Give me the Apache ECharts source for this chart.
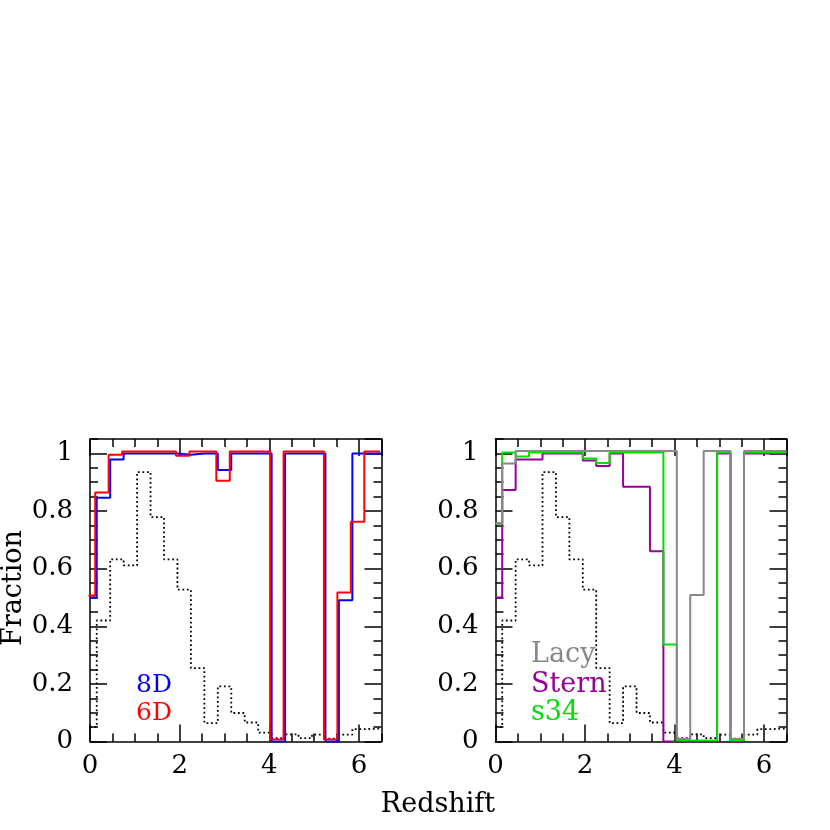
<!DOCTYPE html>
<html>
<head>
<meta charset="utf-8">
<script src="https://cdn.jsdelivr.net/npm/echarts@6/dist/echarts.min.js"></script>
<style>
html,body{margin:0;padding:0;background:#ffffff;}
#c{width:830px;height:830px;}
</style>
</head>
<body>
<div id="c"></div>
<script>
// ---------- data ----------
const binEdges = [0, 0.15, 0.45, 0.75, 1.05, 1.35, 1.65, 1.95, 2.25, 2.55, 2.85, 3.15, 3.45, 3.75, 4.05, 4.35, 4.65, 4.95, 5.25, 5.55, 5.85, 6.15, 6.45];
const binEnd = 6.5;
const xTickLabels = [0, 2, 4, 6];
const yTickLabels = [0, 0.2, 0.4, 0.6, 0.8, 1];
// dotted histogram (normalised redshift distribution), same in both panels
const sampleN   = [0.05, 0.42, 0.632, 0.611, 0.935, 0.779, 0.632, 0.527, 0.255, 0.064, 0.191, 0.099, 0.066, 0.031, 0.012, 0.025, 0.012, 0.024, 0.01, 0.024, 0.043, 0.045, 0.045];
// left panel
const frac8D    = [0.5, 0.846, 0.979, 1, 1, 1, 1, 0.995, 1, 1, 0.942, 1, 1, 1, 0, 1, 1, 1, 0, 0.49, 1, 1, 1];
const frac6D    = [0.5, 0.857, 0.988, 1, 1, 1, 1, 0.985, 1, 1, 0.898, 1, 1, 1, 0, 1, 1, 1, 0, 0.51, 0.756, 1, 1];
// right panel
const fracLacy  = [0.75, 0.956, 1, 1, 1, 1, 1, 1, 1, 1, 1, 1, 1, 1, 0, 0.5, 1, 1, 0, 1, 1, 1, 1];
const fracStern = [0.5, 0.873, 0.979, 0.979, 1, 1, 1, 0.975, 0.956, 1, 0.884, 0.884, 0.66, 0, 0, 0, 0, 1, 0, 1, 1, 1, 1];
const fracS34   = [0.752, 1, 0.986, 1, 1, 1, 1, 0.979, 0.963, 1, 1, 1, 1, 0.333, 0, 0, 0, 1, 0, 1, 1, 1, 1];

// ---------- chart ----------
const FONT = '"DejaVu Serif", "Liberation Serif", serif';
const chart = echarts.init(document.getElementById('c'), null, {renderer: 'canvas'});

function steps(vals) {
  const d = binEdges.map((e, i) => [e, vals[i]]);
  d.push([binEnd, vals[vals.length - 1]]);
  return d;
}
function inList(list, v) {
  return list.some(t => Math.abs(t - v) < 1e-6);
}

const panels = [
  {left: 90, top: 439, width: 291.5, height: 302.5},
  {left: 495.5, top: 439, width: 291, height: 302.5}
];

const grids = [], xAxes = [], yAxes = [];
const black = {color: '#000', width: 1.5};

function addGrid(g, dx, dy, visible) {
  const gi = grids.length;
  grids.push({left: g.left + dx, top: g.top + dy, width: g.width, height: g.height});
  const xi = xAxes.length, yi = yAxes.length;
  const xb = {gridIndex: gi, type: 'value', min: 0, max: binEnd, splitLine: {show: false}};
  const yb = {gridIndex: gi, type: 'value', min: 0, max: 1.05, splitLine: {show: false}};
  if (!visible) {
    xAxes.push(Object.assign({}, xb, {show: false}));
    yAxes.push(Object.assign({}, yb, {show: false}));
    return {xi, yi};
  }
  const noLabel = {show: false};
  xAxes.push(Object.assign({}, xb, {
    position: 'bottom', interval: 2,
    axisLine: {show: true, onZero: false, lineStyle: black},
    axisTick: {show: true, inside: true, length: 17, lineStyle: black},
    axisLabel: {show: true, margin: 12, fontFamily: FONT, fontSize: 26, color: '#000',
      showMaxLabel: false, formatter: v => inList(xTickLabels, v) ? String(v) : ''}
  }));
  xAxes.push(Object.assign({}, xb, {
    position: 'bottom', interval: 0.5,
    axisLine: {show: false, onZero: false},
    axisTick: {show: true, inside: true, length: 8, lineStyle: black},
    axisLabel: noLabel
  }));
  xAxes.push(Object.assign({}, xb, {
    position: 'top', interval: 2,
    axisLine: {show: true, onZero: false, lineStyle: black},
    axisTick: {show: true, inside: true, length: 17, lineStyle: black},
    axisLabel: noLabel
  }));
  xAxes.push(Object.assign({}, xb, {
    position: 'top', interval: 0.5,
    axisLine: {show: false, onZero: false},
    axisTick: {show: true, inside: true, length: 8, lineStyle: black},
    axisLabel: noLabel
  }));
  yAxes.push(Object.assign({}, yb, {
    position: 'left', interval: 0.2,
    axisLine: {show: true, onZero: false, lineStyle: black},
    axisTick: {show: true, inside: true, length: 17, lineStyle: black},
    axisLabel: {show: true, margin: 17, fontFamily: FONT, fontSize: 26, color: '#000',
      showMaxLabel: false,
      formatter: v => inList(yTickLabels, v) ? String(Math.round(v * 10) / 10) : ''}
  }));
  yAxes.push(Object.assign({}, yb, {
    position: 'left', interval: 0.05,
    axisLine: {show: false, onZero: false},
    axisTick: {show: true, inside: true, length: 8, lineStyle: black},
    axisLabel: noLabel
  }));
  yAxes.push(Object.assign({}, yb, {
    position: 'right', interval: 0.2,
    axisLine: {show: true, onZero: false, lineStyle: black},
    axisTick: {show: true, inside: true, length: 17, lineStyle: black},
    axisLabel: noLabel
  }));
  yAxes.push(Object.assign({}, yb, {
    position: 'right', interval: 0.05,
    axisLine: {show: false, onZero: false},
    axisTick: {show: true, inside: true, length: 8, lineStyle: black},
    axisLabel: noLabel
  }));
  return {xi, yi};
}

const leftMain  = addGrid(panels[0], 0, 0, true);
const leftRed   = addGrid(panels[0], -1.5, -2, false);
const rightMain = addGrid(panels[1], 0, 0, true);
const rightGrn  = addGrid(panels[1], 0, -1, false);
const rightGray = addGrid(panels[1], 0, -2.5, false);

function stepSeries(name, vals, ax, color, dotted) {
  return {
    name: name, type: 'line', step: 'end', symbol: 'none', silent: true,
    xAxisIndex: ax.xi, yAxisIndex: ax.yi,
    data: steps(vals),
    lineStyle: dotted
      ? {color: '#000', width: 1.8, type: [1.8, 2.7], cap: 'butt'}
      : {color: color, width: 2},
    z: 3
  };
}

const series = [
  stepSeries('N left', sampleN, leftMain, '#000', true),
  stepSeries('8D', frac8D, leftMain, '#0000ff', false),
  stepSeries('6D', frac6D, leftRed, '#ff0000', false),
  stepSeries('N right', sampleN, rightMain, '#000', true),
  stepSeries('Stern', fracStern, rightMain, '#990099', false),
  stepSeries('s34', fracS34, rightGrn, '#00dd00', false),
  stepSeries('Lacy', fracLacy, rightGray, '#888888', false)
];

function label(text, x, y, color, size) {
  return {
    type: 'text', x: x, y: y, silent: true,
    style: {text: text, fill: color, font: size + 'px ' + FONT, textAlign: 'left', textVerticalAlign: 'middle'}
  };
}

const option = {
  animation: false,
  backgroundColor: '#ffffff',
  grid: grids,
  xAxis: xAxes,
  yAxis: yAxes,
  series: series,
  graphic: [
    label('8D', 136, 685, '#0000ff', 25),
    label('6D', 136, 713, '#ff0000', 25),
    label('Lacy', 531, 655, '#888888', 27),
    label('Stern', 531, 685, '#990099', 27),
    label('s34', 531, 713, '#00dd00', 27),
    {type: 'text', x: 438, y: 805, silent: true,
      style: {text: 'Redshift', fill: '#000', font: '27px ' + FONT, textAlign: 'center', textVerticalAlign: 'middle'}},
    {type: 'text', x: 14, y: 588, rotation: Math.PI / 2, silent: true,
      style: {text: 'Fraction', fill: '#000', font: '27px ' + FONT, textAlign: 'center', textVerticalAlign: 'middle'}}
  ]
};
chart.setOption(option);
</script>
</body>
</html>
